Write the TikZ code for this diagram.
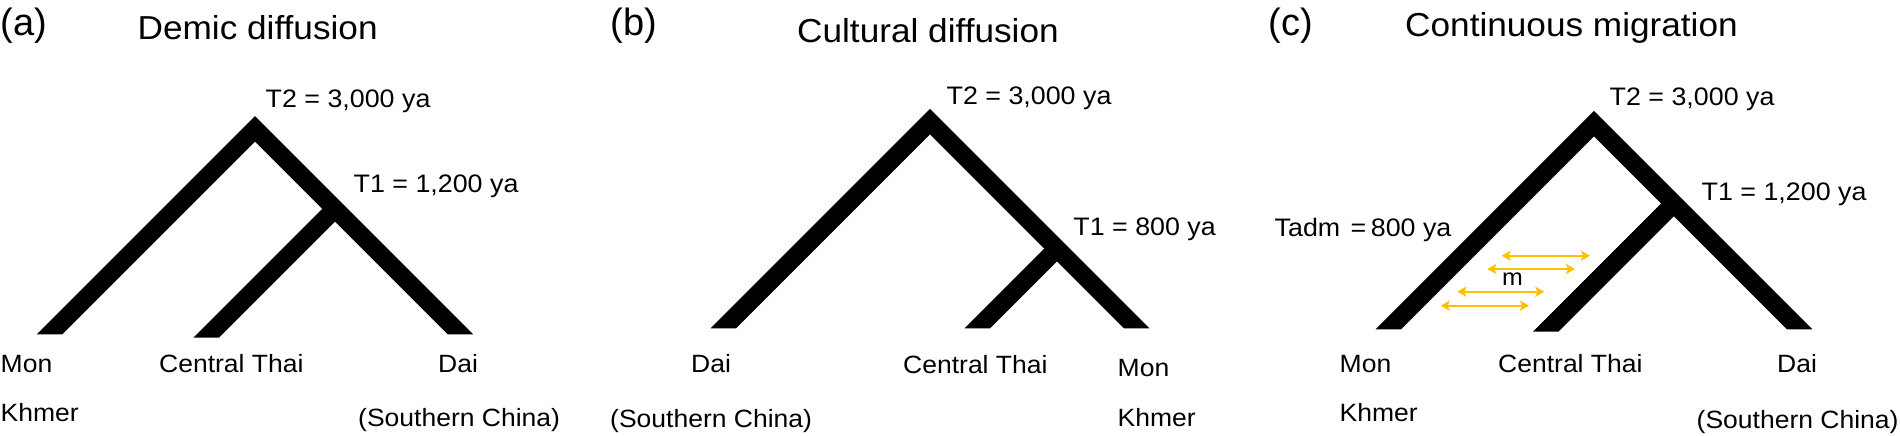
\documentclass[tikz,border=0pt]{standalone}
\usepackage{fontspec}
\setmainfont{Liberation Sans}[FakeStretch=1.06]
\newfontfamily\panfont{Liberation Sans}
\usetikzlibrary{arrows.meta}
\definecolor{gold}{RGB}{255,192,0}
\tikzset{
  treefill/.style={fill=black},
  lab/.style={anchor=base west, inner sep=0pt, font=\fontsize{25}{30}\selectfont},
  tlab/.style={anchor=base west, inner sep=0pt, font=\fontsize{25.3}{30}\selectfont},
  ttl/.style={anchor=base west, inner sep=0pt, font=\fontsize{33.2}{40}\selectfont},
  pan/.style={anchor=base west, inner sep=0pt, font=\panfont\fontsize{38}{44}\selectfont},
  mlab/.style={anchor=base, inner sep=0pt, font=\fontsize{23.5}{28}\selectfont},
  mig/.style={draw=gold, line width=2.2pt, {Stealth[length=9pt,width=10pt,inset=2pt]}-{Stealth[length=9pt,width=10pt,inset=2pt]}}
}
% apex-x, apex-y (centre line), bottom of legs, branch bottom x, branch bottom y
\newcommand\phylotree[5]{%
  \pgfmathsetmacro\trJy{(#4+#5-#1+#2)/2}%
  \pgfmathsetmacro\trJx{#1+\trJy-#2}%
  \fill[treefill] (#1,{#2-12.73}) -- ({#1-(#3-#2)-12.73},#3) -- ({#1-(#3-#2)+12.73},#3)
     -- (#1,{#2+12.73}) -- ({#1+(#3-#2)-12.73},#3) -- ({#1+(#3-#2)+12.73},#3) -- cycle;
  \fill[treefill] ({#4-12.73},#5) -- ({\trJx-6.36},{\trJy-6.36}) -- ({\trJx+6.36},{\trJy+6.36}) -- ({#4+12.73},#5) -- cycle;
}
\begin{document}
\begin{tikzpicture}[x=1pt,y=-1pt]
\useasboundingbox[fill=white] (0,0) rectangle (1900,436);
% ---------- (a) ----------
\phylotree{255}{128.8}{334.3}{206.2}{337.7}
\node[pan] (pa) at (0.5,35.5) {(a)};
\node[ttl] (ta) at (137.5,39.3) {Demic diffusion};
\node[tlab] (a2) at (265.5,107.3) {T2 = 3,000 ya};
\node[tlab] (a1) at (353.5,192.7) {T1 = 1,200 ya};
\node[lab] (amon) at (0.5,372.3) {Mon};
\node[lab] (akh) at (0.5,421.7) {Khmer};
\node[lab] (act) at (159,372) {Central Thai};
\node[lab] (adai) at (438,372.7) {Dai};
\node[lab] (asc) at (358,426.7) {(Southern China)};
% ---------- (b) ----------
\phylotree{930}{121.7}{328.3}{977.4}{328.3}
\node[pan] (pb) at (610.5,35.5) {(b)};
\node[ttl] (tb) at (797,42.7) {Cultural diffusion};
\node[tlab] (b2) at (946.5,104) {T2 = 3,000 ya};
\node[tlab] (b1) at (1073.2,235) {T1 = 800 ya};
\node[lab] (bdai) at (691,372.7) {Dai};
\node[lab] (bsc) at (610,427.3) {(Southern China)};
\node[lab] (bct) at (903,373.3) {Central Thai};
\node[lab] (bmon) at (1117.5,376) {Mon};
\node[lab] (bkh) at (1117.5,426.7) {Khmer};
% ---------- (c) ----------
\phylotree{1594}{123.7}{329.3}{1545.7}{331.7}
\node[pan] (pc) at (1268.5,35.5) {(c)};
\node[ttl] (tc) at (1405,36.7) {Continuous migration};
\node[tlab] (c2) at (1609.5,105) {T2 = 3,000 ya};
\node[tlab] (c1) at (1701.5,200) {T1 = 1,200 ya};
\node[tlab] (cadm) at (1274.5,236) {Tadm\kern3pt{} =\kern4.5pt 800 ya};
\node[lab] (cmon) at (1339.5,372.7) {Mon};
\node[lab] (ckh) at (1339.5,421.7) {Khmer};
\node[lab] (cct) at (1498,372.7) {Central Thai};
\node[lab] (cdai) at (1777,372.7) {Dai};
\node[lab] (csc) at (1696.5,428.3) {(Southern China)};
\node[mlab] (cm) at (1512.5,285) {m};
\coordinate (m1l) at (1501.7,255.7); \coordinate (m1r) at (1590,255.7);
\coordinate (m2l) at (1487.3,269);   \coordinate (m2r) at (1575,269);
\coordinate (m3l) at (1457.3,291.7); \coordinate (m3r) at (1544.3,291.7);
\coordinate (m4l) at (1440.7,305.7); \coordinate (m4r) at (1529,305.7);
\draw[mig] (m1l) -- (m1r);
\draw[mig] (m2l) -- (m2r);
\draw[mig] (m3l) -- (m3r);
\draw[mig] (m4l) -- (m4r);
\end{tikzpicture}
\end{document}
